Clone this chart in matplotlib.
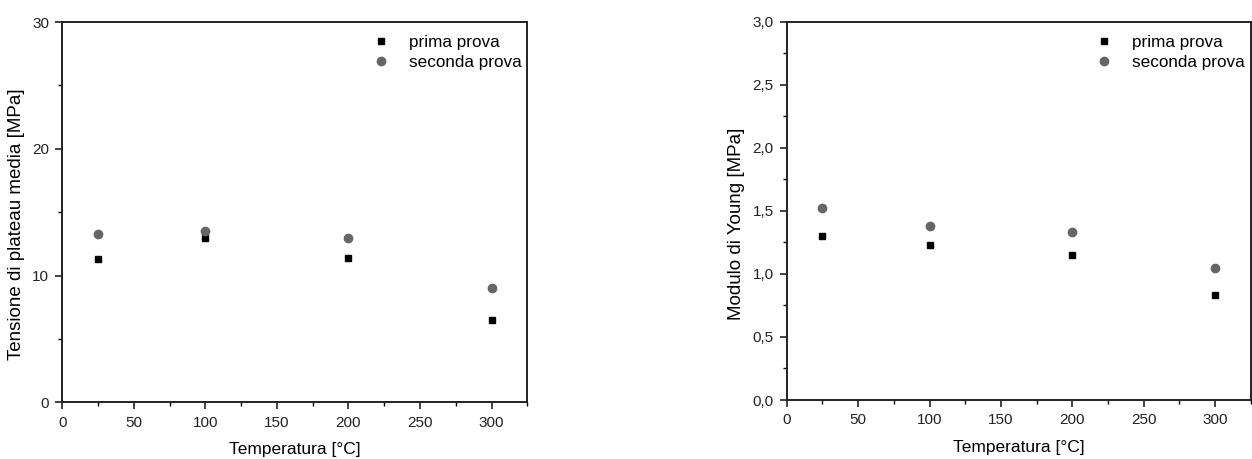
import matplotlib
matplotlib.use("Agg")
import matplotlib.pyplot as plt
from matplotlib.ticker import MultipleLocator, FuncFormatter

plt.rcParams["font.family"] = ["Liberation Sans", "DejaVu Sans"]

temperatura = [25, 100, 200, 300]
tensione_prima = [11.3, 13.0, 11.4, 6.5]
tensione_seconda = [13.3, 13.5, 13.0, 9.0]
young_prima = [1.30, 1.23, 1.15, 0.83]
young_seconda = [1.52, 1.38, 1.33, 1.05]

GRAY = "#666666"


def style_axes(ax, ymax, ymajor, yminor, comma):
    ax.set_xlim(0, 325)
    ax.set_ylim(0, ymax)
    ax.xaxis.set_major_locator(MultipleLocator(50))
    ax.xaxis.set_minor_locator(MultipleLocator(25))
    ax.yaxis.set_major_locator(MultipleLocator(ymajor))
    ax.yaxis.set_minor_locator(MultipleLocator(yminor))
    if comma:
        ax.yaxis.set_major_formatter(FuncFormatter(lambda v, p: f"{v:.1f}".replace(".", ",")))
    ax.tick_params(which="major", direction="out", length=5, width=1.2, labelsize=11,
                   colors="#222222", pad=4.5)
    ax.tick_params(which="minor", direction="out", length=3, width=1.0)
    for s in ax.spines.values():
        s.set_linewidth(1.4)
        s.set_color("#222222")
    ax.set_xlabel("Temperatura [°C]", fontsize=12.5, labelpad=9)


def plot_pair(ax, prima, seconda):
    ax.plot(temperatura, prima, linestyle="none", marker="s", markersize=5,
            color="black", label="prima prova")
    ax.plot(temperatura, seconda, linestyle="none", marker="o", markersize=6,
            color=GRAY, label="seconda prova")
    ax.legend(loc="upper right", frameon=False, fontsize=12.3, handletextpad=0.9,
              borderaxespad=0.2, labelspacing=0.3, handlelength=1.5,
              bbox_to_anchor=(1.01, 0.993))


fig = plt.figure(figsize=(12.52, 4.59), dpi=100)
ax1 = fig.add_axes([0.0498, 0.1235, 0.3714, 0.8285])
ax2 = fig.add_axes([0.6284, 0.1285, 0.3706, 0.8242])

plot_pair(ax1, tensione_prima, tensione_seconda)
style_axes(ax1, 30, 10, 5, False)
ax1.set_ylabel("Tensione di plateau media [MPa]", fontsize=13.5)
ax1.yaxis.set_label_coords(-0.08, 0.468)

plot_pair(ax2, young_prima, young_seconda)
style_axes(ax2, 3.0, 0.5, 0.25, True)
ax2.set_ylabel("Modulo di Young [MPa]", fontsize=13.5)
ax2.yaxis.set_label_coords(-0.09, 0.467)

fig.savefig("out.png", dpi=100)
